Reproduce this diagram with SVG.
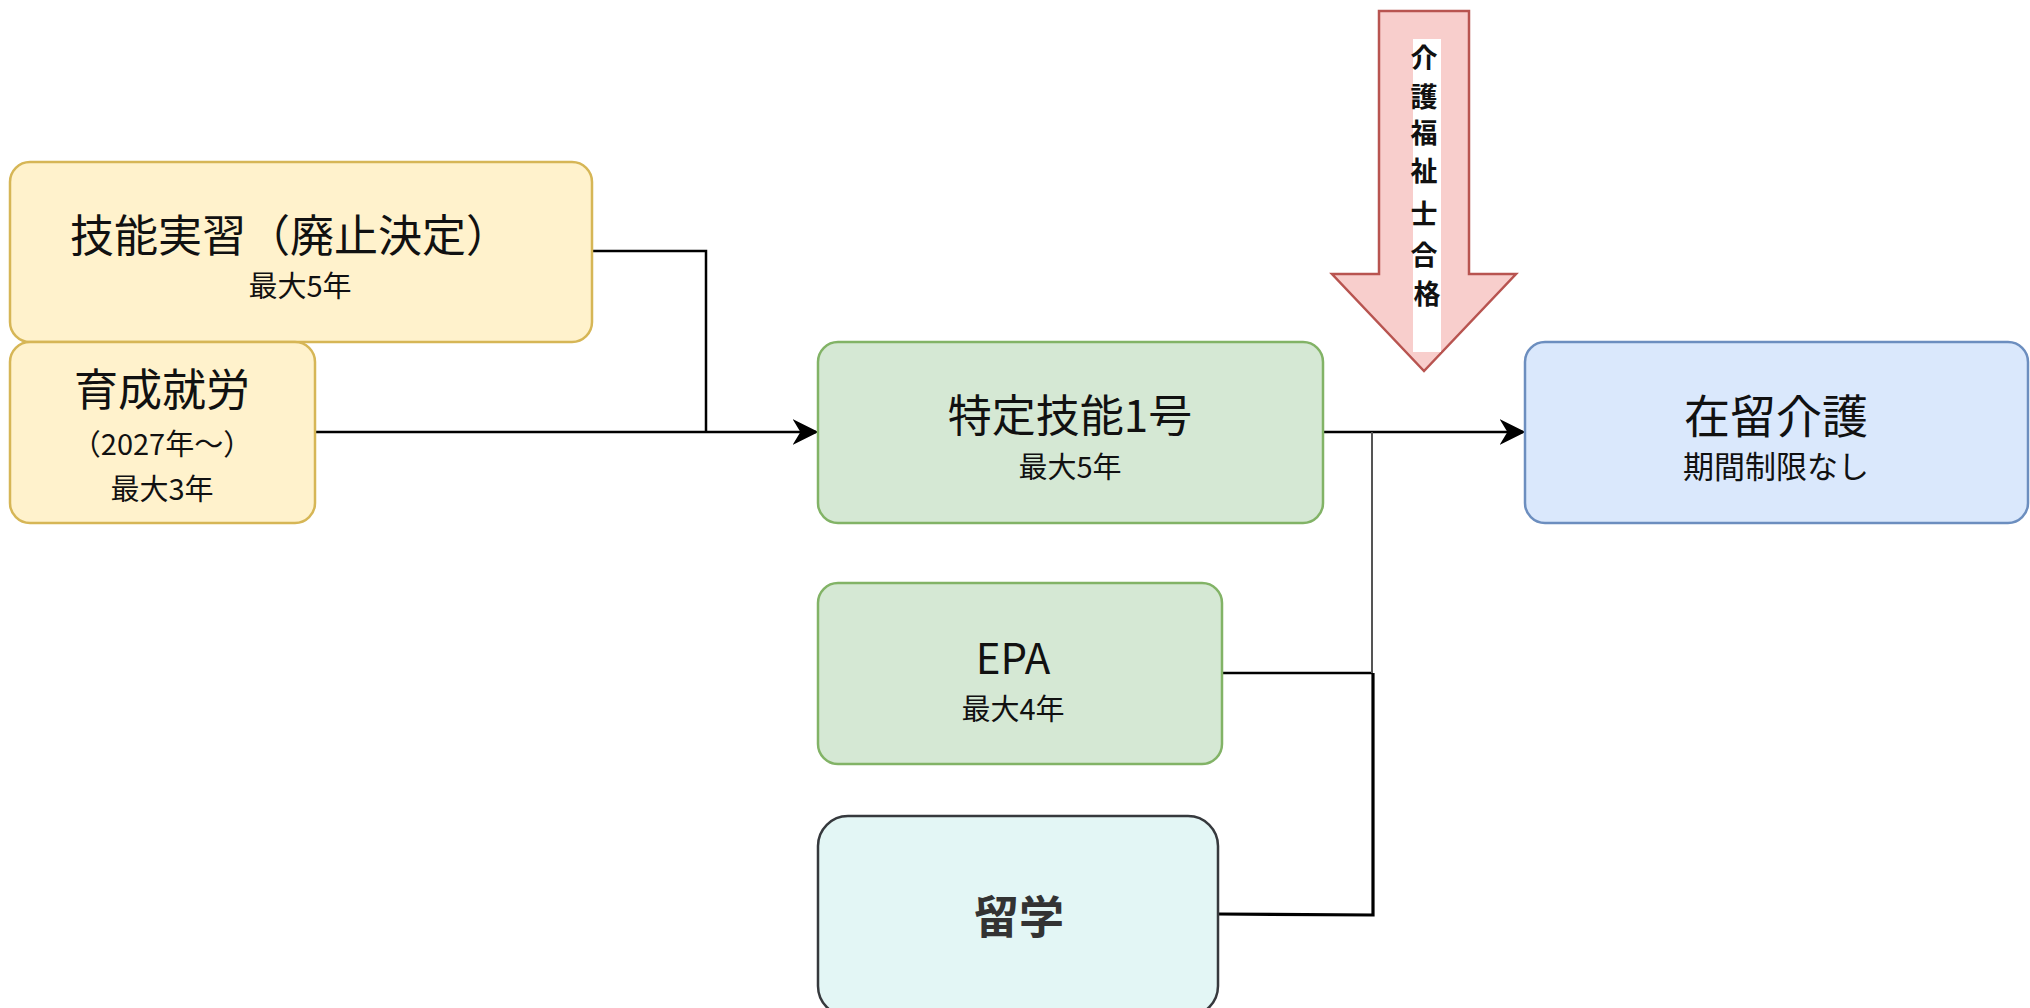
<svg xmlns="http://www.w3.org/2000/svg" width="2030" height="1008" viewBox="0 0 2030 1008">
<defs>
<style>
.t{font-family:"Noto Sans CJK JP","Noto Sans",sans-serif;fill:#111;text-anchor:middle}
.big{font-size:44px}
.sub{font-size:29px}
.yel{fill:#fff2cc;stroke:#d6b656;stroke-width:2.5}
.grn{fill:#d5e8d4;stroke:#82b366;stroke-width:2.5}
.blu{fill:#dae8fc;stroke:#6c8ebf;stroke-width:2.5}
.cyn{fill:#e3f6f5;stroke:#36393d;stroke-width:2.5}
.ln{fill:none;stroke:#000;stroke-width:2.5}
</style>
<marker id="arrL" viewBox="0 0 10 10" refX="9" refY="5" markerWidth="26" markerHeight="26" markerUnits="userSpaceOnUse" orient="auto">
<path d="M0,0 L10,5 L0,10 L3,5 Z" fill="#000"/>
</marker>
</defs>
<rect width="2030" height="1008" fill="#fff"/>
<g id="connectors">
<polyline class="ln" points="592,251 706,251 706,432"/>
<line class="ln" x1="315" y1="432" x2="816" y2="432" marker-end="url(#arrL)"/>
<line class="ln" x1="1323" y1="432" x2="1523" y2="432" marker-end="url(#arrL)"/>
<polyline class="ln" points="1222,673 1372,673"/>
<line x1="1372" y1="432" x2="1372" y2="673" stroke="#555" stroke-width="2"/>
<polyline class="ln" points="1218,914 1373,915 1373,673" style="stroke-width:3.2"/>
</g>
<g id="ginou">
<rect class="yel" x="10" y="162" width="582" height="180" rx="20"/>
<text class="t big" x="290" y="252">技能実習（廃止決定）</text>
<text class="t sub" x="300" y="297">最大5年</text>
</g>
<g id="ikusei">
<rect class="yel" x="10" y="342" width="305" height="181" rx="20"/>
<text class="t big" x="162" y="406">育成就労</text>
<text class="t sub" x="162" y="455">（2027年～）</text>
<text class="t sub" x="162" y="500">最大3年</text>
</g>
<g id="tokutei">
<rect class="grn" x="818" y="342" width="505" height="181" rx="20"/>
<text class="t big" x="1070" y="432">特定技能1号</text>
<text class="t sub" x="1070" y="478">最大5年</text>
</g>
<g id="zairyu">
<rect class="blu" x="1525" y="342" width="503" height="181" rx="20"/>
<text class="t" style="font-size:46px" x="1776" y="433">在留介護</text>
<text class="t" style="font-size:31px" x="1776" y="478">期間制限なし</text>
</g>
<g id="epa">
<rect class="grn" x="818" y="583" width="404" height="181" rx="20"/>
<text class="t" x="1013" y="674" style="font-size:42px">EPA</text>
<text class="t sub" x="1013" y="720">最大4年</text>
</g>
<g id="ryugaku">
<rect class="cyn" x="818" y="816" width="400" height="200" rx="30"/>
<text class="t" x="1019" y="934" style="font-size:45px;font-weight:bold;fill:#333">留学</text>
</g>
<g id="kaigo-arrow">
<polygon points="1379,11 1469,11 1469,274 1516,274 1424,371 1332,274 1379,274" fill="#f8cecc" stroke="#b85450" stroke-width="2.5"/>
<rect x="1413" y="39" width="28" height="313" fill="#fff"/>
<text class="t" style="font-size:27px;font-weight:bold" x="1427">
<tspan x="1427" y="68">介</tspan>
<tspan x="1427" y="107">護</tspan>
<tspan x="1427" y="143">福</tspan>
<tspan x="1427" y="181">祉</tspan>
<tspan x="1427" y="224">士</tspan>
<tspan x="1427" y="265">合</tspan>
<tspan x="1427" y="304">格</tspan>
</text>
</g>
</svg>
